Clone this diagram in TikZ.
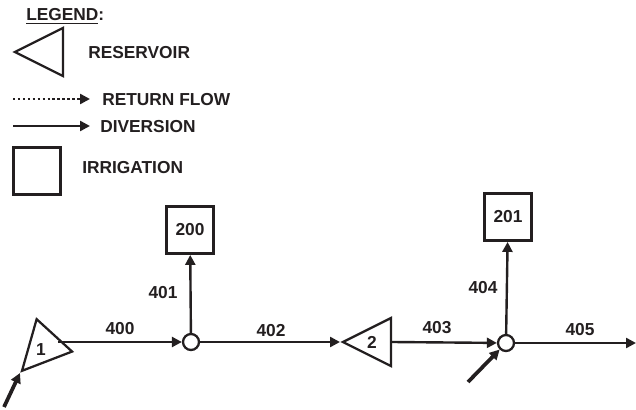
\documentclass[tikz,border=0pt]{standalone}
\usepackage{fontspec}
\setmainfont{Liberation Sans}
\usetikzlibrary{arrows.meta,positioning,shapes.geometric}
\definecolor{ink}{RGB}{35,31,32}

\begin{document}
\begin{tikzpicture}[
        x=0.75pt, y=-0.75pt,
        tag/.style={
            font=\bfseries\fontsize{13}{15}\selectfont,
            text=ink,
            inner sep=0pt
        },
        reservoir/.style={
            draw=ink,
            isosceles triangle,
            isosceles triangle stretches,
            shape border rotate=180,
            minimum width=36pt,
            minimum height=36pt,
            inner sep=0pt,
            line width=1.7pt
        },
        irrigation/.style={
            tag,
            draw=ink,
            minimum size=35.5pt,
            line width=1.9pt
        },
        junction/.style={
            draw=ink,
            circle,
            fill=white,
            minimum size=12pt,
            inner sep=0pt,
            line width=1.7pt
        },
        flow/.style={
            -{Triangle[length=7.5pt,width=7.5pt]},
            draw=ink,
            line width=1.8pt
        },
        retflow/.style={
            flow,
            dash pattern=on 1.8pt off 1.9pt
        },
        inflow/.style={
            flow,
            line width=2.8pt
        }
    ]

        \useasboundingbox (0,0) rectangle (636,410);

        % legend
        \node[tag, anchor=base west] (legtitle) at (26,21) {\underline{LEGEND}:};
        \node[reservoir, anchor=apex] (legres) at (12,52) {};
        \node[tag, anchor=west] (legrestxt) at (88,53) {RESERVOIR};
        \coordinate (retA) at (13,99);
        \coordinate (retB) at (90,99);
        \node[tag, anchor=west] (legret) at (102,100) {RETURN FLOW};
        \coordinate (divA) at (13,126);
        \coordinate (divB) at (90,126);
        \node[tag, anchor=west] (legdiv) at (100,127) {DIVERSION};
        \node[irrigation] (legirr) at (37,171) {};
        \node[tag, anchor=west] (legirrtxt) at (82,168) {IRRIGATION};

        \draw[retflow] (retA) -- (retB);
        \draw[flow] (divA) -- (divB);

        % network
        \node[junction] (j1) at (191,342) {};
        \node[junction] (j2) at (506,343) {};
        \node[irrigation] (d200) at (190,230) {200};
        \node[irrigation] (d201) at (508,217) {201};
        \node[reservoir, anchor=apex, rotate=47.6] (res1) at (20,373) {};
        \node[tag] (res1txt) at (41,350) {1};
        \node[reservoir, anchor=apex] (res2) at (340,342) {};
        \node[tag] (res2txt) at (372,342) {2};
        \coordinate (in1) at (4,407);
        \coordinate (in2) at (468,382);
        \coordinate (out) at (636,343);

        \draw[flow, shorten <=2pt] (res1.lower side |- j1) -- (j1);
        \draw[flow] (j1) -- (d200);
        \draw[flow] (j1) -- (res2.apex);
        \draw[flow] (res2.lower side) -- (j2);
        \draw[flow] (j2) -- (d201);
        \draw[flow] (j2) -- (out);
        \draw[inflow] (in1) -- (res1.apex);
        \draw[inflow] (in2) -- (j2);

        \node[tag] (l400) at (120,329) {400};
        \node[tag] (l401) at (163,293) {401};
        \node[tag] (l402) at (271,331) {402};
        \node[tag] (l403) at (437,328) {403};
        \node[tag] (l404) at (483,288) {404};
        \node[tag] (l405) at (580,330) {405};

    \end{tikzpicture}
\end{document}
